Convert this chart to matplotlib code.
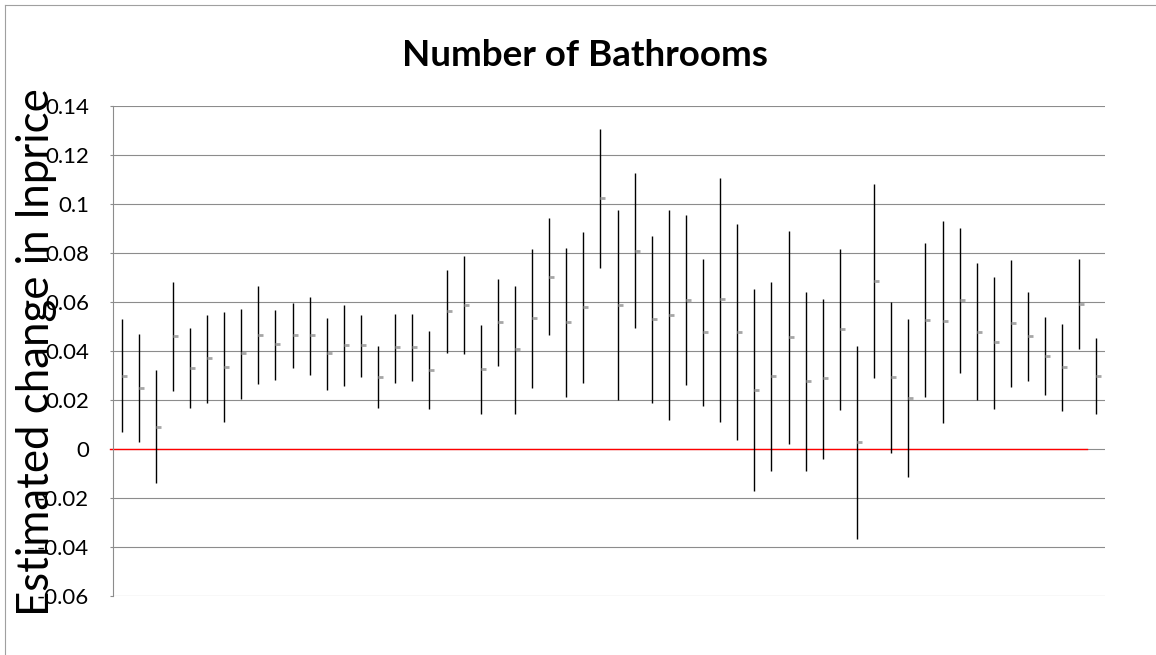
import numpy as np
import matplotlib
matplotlib.use("Agg")
from matplotlib import pyplot as plt
from matplotlib.lines import Line2D
from matplotlib.ticker import FixedLocator, FuncFormatter

# High / low / estimate for each of the 58 sub-samples
high = [0.0529, 0.0468, 0.0321, 0.0679, 0.0494, 0.0547, 0.0558, 0.0571, 0.0663, 0.0567,
        0.0596, 0.0620, 0.0535, 0.0588, 0.0547, 0.0420, 0.0552, 0.0550, 0.0482, 0.0731,
        0.0788, 0.0505, 0.0694, 0.0664, 0.0814, 0.0940, 0.0818, 0.0884, 0.1306, 0.0975,
        0.1126, 0.0868, 0.0976, 0.0954, 0.0773, 0.1104, 0.0916, 0.0652, 0.0680, 0.0889,
        0.0642, 0.0611, 0.0816, 0.0421, 0.1080, 0.0599, 0.0529, 0.0840, 0.0931, 0.0902,
        0.0757, 0.0701, 0.0770, 0.0640, 0.0537, 0.0511, 0.0774, 0.0454]
low = [0.0067, 0.0027, -0.0140, 0.0237, 0.0165, 0.0189, 0.0109, 0.0204, 0.0263, 0.0282,
       0.0331, 0.0303, 0.0242, 0.0256, 0.0294, 0.0165, 0.0268, 0.0278, 0.0161, 0.0390,
       0.0386, 0.0144, 0.0337, 0.0143, 0.0250, 0.0463, 0.0210, 0.0269, 0.0737, 0.0199,
       0.0492, 0.0189, 0.0116, 0.0259, 0.0177, 0.0109, 0.0038, -0.0173, -0.0090, 0.0020,
       -0.0091, -0.0041, 0.0157, -0.0369, 0.0288, -0.0017, -0.0116, 0.0212, 0.0105, 0.0309,
       0.0198, 0.0164, 0.0252, 0.0276, 0.0219, 0.0153, 0.0408, 0.0142]
estimate = [0.0299, 0.0249, 0.0091, 0.0460, 0.0332, 0.0370, 0.0335, 0.0390, 0.0464, 0.0426,
            0.0464, 0.0464, 0.0390, 0.0424, 0.0422, 0.0294, 0.0414, 0.0416, 0.0322, 0.0563,
            0.0588, 0.0325, 0.0517, 0.0407, 0.0533, 0.0702, 0.0516, 0.0578, 0.1023, 0.0589,
            0.0809, 0.0530, 0.0548, 0.0606, 0.0477, 0.0610, 0.0477, 0.0240, 0.0297, 0.0457,
            0.0276, 0.0288, 0.0488, 0.0028, 0.0684, 0.0293, 0.0208, 0.0527, 0.0520, 0.0606,
            0.0478, 0.0435, 0.0512, 0.0460, 0.0380, 0.0334, 0.0592, 0.0299]

y_ticks = [0.14, 0.12, 0.1, 0.08, 0.06, 0.04, 0.02, 0, -0.02, -0.04, -0.06]

plt.rcParams['font.family'] = ['Lato', 'DejaVu Sans']

W, H = 1156, 655
fig = plt.figure(figsize=(W / 100, H / 100), dpi=100)
ax = fig.add_axes([113 / W, 1 - 596 / H, 992 / W, (596 - 105.7) / H])

x = np.arange(len(high))
ax.vlines(x, low, high, colors='black', linewidth=1.0, zorder=3)
ax.plot(x, estimate, linestyle='none', marker=1, markersize=3.6,
        markeredgewidth=2.0, color='#a6a6a6', zorder=4)

# zero reference line
ax.plot([-0.003, 0.982], [0, 0], color='#ff0000', linewidth=1.0,
        transform=ax.get_yaxis_transform(), clip_on=False, zorder=2)

ax.set_xlim(-0.5, len(high) - 0.5)
ax.set_ylim(-0.06, 0.14)
ax.yaxis.set_major_locator(FixedLocator(y_ticks))
ax.yaxis.set_major_formatter(FuncFormatter(lambda v, p: f'{v:g}' if abs(v) > 1e-9 else '0'))
ax.grid(axis='y', color='#8c8c8c', linewidth=0.8, zorder=0)
ax.set_xticks([])
ax.tick_params(axis='y', length=2.2, width=0.8, color='#8c8c8c', pad=15,
               labelsize=16, labelcolor='black')
for side in ('top', 'right', 'bottom'):
    ax.spines[side].set_visible(False)
ax.spines['left'].set_color('#8c8c8c')
ax.spines['left'].set_linewidth(0.8)

fig.text(585 / W, 1 - 66 / H, 'Number of Bathrooms', ha='center', va='baseline',
         fontsize=26.5, fontweight='bold')
fig.text(49 / W, 1 - 352 / H, 'Estimated change in lnprice', rotation=90,
         rotation_mode='anchor', ha='center', va='baseline', fontsize=31.5)

# chart area border
fig.add_artist(Line2D([5 / W, 5 / W], [0, 1 - 5 / H], color='#a0a0a0', linewidth=0.8))
fig.add_artist(Line2D([5 / W, 1], [1 - 5 / H, 1 - 5 / H], color='#a0a0a0', linewidth=0.8))

fig.savefig('out.png', dpi=100, facecolor='white')
